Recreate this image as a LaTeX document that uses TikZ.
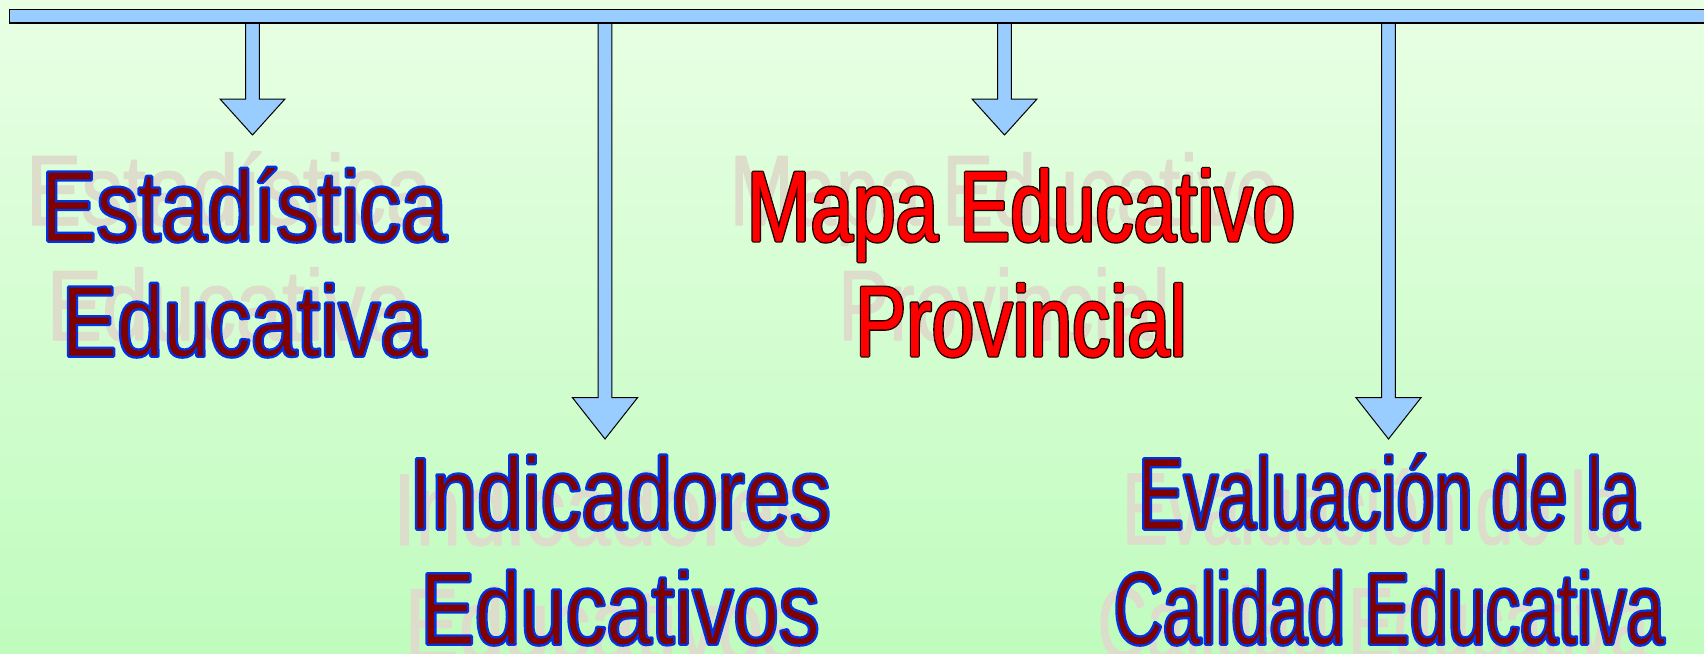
\documentclass[tikz,border=0pt]{standalone}
\usepackage{fontspec}
\newfontfamily\fEst[FakeStretch=0.83]{Liberation Sans}
\newfontfamily\fInd[FakeStretch=0.80]{Liberation Sans}
\newfontfamily\fMap[FakeStretch=0.765]{Liberation Sans}
\newfontfamily\fEva[FakeStretch=0.67]{Liberation Sans}
\definecolor{bgtop}{RGB}{232,255,228}
\definecolor{bgbot}{RGB}{192,252,190}
\definecolor{arrowfill}{RGB}{153,204,255}
\definecolor{txtmaroon}{RGB}{128,0,0}
\definecolor{txtblue}{RGB}{0,51,230}
\definecolor{shadowc}{RGB}{221,221,204}
\definecolor{mapred}{RGB}{255,0,0}
\definecolor{mapdark}{RGB}{30,0,0}
% text drawn with fill + stroke of width #1 in the current colour (round joins)
\newcommand\boldlayer[2]{\special{pdf:literal direct #1 w 1 j 2 Tr}#2\special{pdf:literal direct 0 Tr 0 j}}
% fill in current colour, stroke of width #2 in rgb colour #1
\newcommand\edgelayer[3]{\special{pdf:literal direct #1 RG #2 w 1 j 2 Tr}#3\special{pdf:literal direct 0 Tr 0 j}}
% outlined text: #1 outline colour, #2 outline width, #3 fill colour, #4 inner edge rgb, #5 inner edge width, #6 text
\newcommand\outlinedtext[6]{\makebox[0pt][l]{\color{#1}\boldlayer{#2}{#6}}{\color{#3}\edgelayer{#4}{#5}{#6}}}
\newcommand\bluetext[1]{\outlinedtext{txtblue}{3.6}{txtmaroon}{0 0.2 0.9}{1}{#1}}
\newcommand\darktext[1]{\outlinedtext{mapdark}{3.4}{mapred}{1 0 0}{0.6}{#1}}
\newcommand\shadowtext[1]{\boldlayer{1.2}{#1}}
\tikzset{
  barshape/.style={fill=arrowfill, draw=black, line width=1.2pt},
  blockarrow/.style={fill=arrowfill, draw=black, line width=1pt, line join=miter},
  lbl/.style={inner sep=0pt, anchor=base},
  upperfont/.style={font={#1\fontsize{100}{115}\selectfont}},
  lowerfont/.style={font={#1\fontsize{102}{117}\selectfont}},
  shadowtxt/.style={lbl, text=shadowc},
  maintxt/.style={lbl},
}
\begin{document}
\begin{tikzpicture}[x=1pt,y=1pt]
\useasboundingbox (0,0) rectangle (1704,-653);
\clip (0,0) rectangle (1704,-653);
\shade[top color=bgtop, bottom color=bgbot] (0,0) rectangle (1704,-653);

% block arrows (drawn below the bar)
\foreach \cx/\ht/\tp in {252.5/99/135, 605/397.7/439, 1004.5/99/135, 1388.5/397.7/439}{
  \draw[blockarrow, shift={(\cx,0)}]
    (-6.8,-16) -- (-6.8,-\ht) -- (-32.5,-\ht) -- (0,-\tp) -- (32.5,-\ht) -- (6.8,-\ht) -- (6.8,-16) -- cycle;
}
% horizontal bar
\draw[barshape] (9.5,-9.5) rectangle (1720,-23);

% ---- Estadistica Educativa ----
\node[shadowtxt, upperfont=\fEst] (est1s) at (229,-225) {\shadowtext{Estadística}};
\node[shadowtxt, upperfont=\fEst] (est2s) at (229,-340) {\shadowtext{Educativa}};
\node[maintxt, upperfont=\fEst] (est1) at (244,-241) {\bluetext{Estadística}};
\node[maintxt, upperfont=\fEst] (est2) at (244,-356) {\bluetext{Educativa}};

% ---- Mapa Educativo Provincial ----
\node[shadowtxt, upperfont=\fMap] (map1s) at (1004,-225) {\shadowtext{Mapa Educativo}};
\node[shadowtxt, upperfont=\fMap] (map2s) at (1004,-340) {\shadowtext{Provincial}};
\node[maintxt, upperfont=\fMap] (map1) at (1021,-241) {\darktext{Mapa Educativo}};
\node[maintxt, upperfont=\fMap] (map2) at (1021,-356) {\darktext{Provincial}};

% ---- Indicadores Educativos ----
\node[shadowtxt, lowerfont=\fInd] (ind1s) at (604,-545) {\shadowtext{Indicadores}};
\node[shadowtxt, lowerfont=\fInd] (ind2s) at (604,-660) {\shadowtext{Educativos}};
\node[maintxt, lowerfont=\fInd] (ind1) at (620,-529) {\bluetext{Indicadores}};
\node[maintxt, lowerfont=\fInd] (ind2) at (620,-644) {\bluetext{Educativos}};

% ---- Evaluacion de la Calidad Educativa ----
\node[shadowtxt, lowerfont=\fEva] (eva1s) at (1373,-544) {\shadowtext{Evaluación de la}};
\node[shadowtxt, lowerfont=\fEva] (eva2s) at (1373,-659) {\shadowtext{Calidad Educativa}};
\node[maintxt, lowerfont=\fEva] (eva1) at (1389,-529) {\bluetext{Evaluación de la}};
\node[maintxt, lowerfont=\fEva] (eva2) at (1389,-644) {\bluetext{Calidad Educativa}};
\end{tikzpicture}
\end{document}
